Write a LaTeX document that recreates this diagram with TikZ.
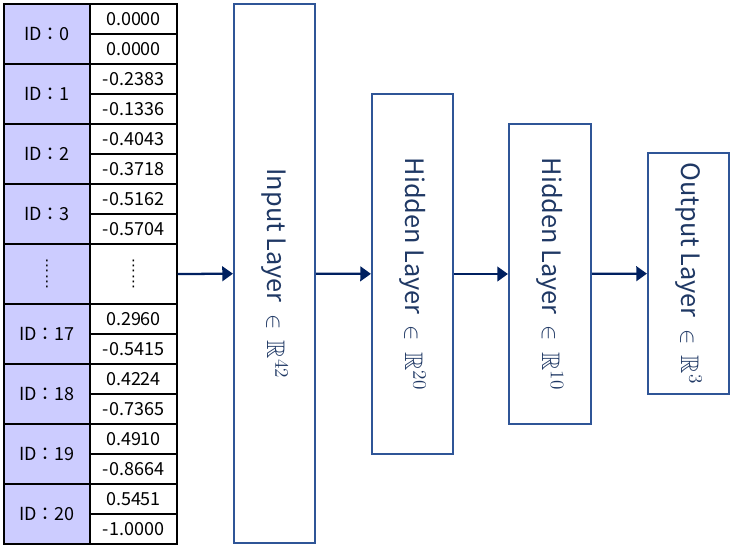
\documentclass[tikz,border=0pt]{standalone}
\usepackage{amssymb}
\usepackage{fontspec}
\setmainfont{Noto Sans CJK JP}
\newfontfamily\dotsfont{DejaVu Sans}
\usetikzlibrary{arrows.meta}
\definecolor{idfill}{HTML}{CCCCFF}
\definecolor{layerline}{HTML}{2F5597}
\definecolor{layertext}{HTML}{1F3864}
\definecolor{arrowcol}{HTML}{002060}
\begin{document}
\begin{tikzpicture}[
        x=0.75pt, y=-0.75pt,
        idcell/.style={draw, fill=idfill, line width=0.8pt, inner sep=0pt, minimum width=64.5pt, minimum height=45pt, font=\fontsize{13.5}{16}\selectfont},
        valcell/.style={draw, fill=white, line width=0.8pt, inner sep=0pt, minimum width=65.25pt, minimum height=22.5pt, font=\fontsize{13.5}{15}\selectfont},
        dotcell/.style={font=\dotsfont\fontsize{11}{12.5}\selectfont, align=center, minimum height=45pt},
        layer/.style={draw=layerline, line width=1.6pt, inner sep=0pt, minimum width=60.75pt, text=layertext, font=\fontsize{19}{22}\selectfont},
        arrow/.style={-{Triangle[length=8pt,width=11pt]}, line width=1.7pt, arrowcol}
    ]
        \useasboundingbox (0,0) rectangle (732,547);
        
        % ID column
        \node[idcell] (id0) at (47,34) {ID：0};
        \node[idcell] (id1) at (47,94) {ID：1};
        \node[idcell] (id2) at (47,154) {ID：2};
        \node[idcell] (id3) at (47,214) {ID：3};
        \node[idcell, dotcell] (iddots) at (47,274) {⋮\\⋮};
        \node[idcell] (id17) at (47,334) {ID：17};
        \node[idcell] (id18) at (47,394) {ID：18};
        \node[idcell] (id19) at (47,454) {ID：19};
        \node[idcell] (id20) at (47,514) {ID：20};
        
        % Coordinate values
        \node[valcell] (v0a) at (133.5,19) {0.0000};
        \node[valcell] (v0b) at (133.5,49) {0.0000};
        \node[valcell] (v1a) at (133.5,79) {-0.2383};
        \node[valcell] (v1b) at (133.5,109) {-0.1336};
        \node[valcell] (v2a) at (133.5,139) {-0.4043};
        \node[valcell] (v2b) at (133.5,169) {-0.3718};
        \node[valcell] (v3a) at (133.5,199) {-0.5162};
        \node[valcell] (v3b) at (133.5,229) {-0.5704};
        \node[valcell, dotcell] (vdots) at (133.5,274) {⋮\\⋮};
        \node[valcell] (v17a) at (133.5,319) {0.2960};
        \node[valcell] (v17b) at (133.5,349) {-0.5415};
        \node[valcell] (v18a) at (133.5,379) {0.4224};
        \node[valcell] (v18b) at (133.5,409) {-0.7365};
        \node[valcell] (v19a) at (133.5,439) {0.4910};
        \node[valcell] (v19b) at (133.5,469) {-0.8664};
        \node[valcell] (v20a) at (133.5,499) {0.5451};
        \node[valcell] (v20b) at (133.5,529) {-1.0000};
        
        % Network layers
        \node[layer, minimum height=404.25pt] (input) at (274.5,273.5) {\rotatebox{-90}{Input Layer \ $\in$ \ $\mathbb{R}^{42}$}};
        \node[layer, minimum height=270pt] (hidden1) at (412.5,274) {\rotatebox{-90}{Hidden Layer \ $\in$ \ $\mathbb{R}^{20}$}};
        \node[layer, minimum width=61.5pt, minimum height=225pt] (hidden2) at (550,274) {\rotatebox{-90}{Hidden Layer \ $\in$ \ $\mathbb{R}^{10}$}};
        \node[layer, minimum height=180.75pt] (output) at (688.5,273.5) {\rotatebox{-90}{Output Layer \ $\in$ \ $\mathbb{R}^{3}$}};
        
        % Connections
        \draw[arrow] (vdots.east) -- (input);
        \draw[arrow] (input) -- (hidden1);
        \draw[arrow] (hidden1) -- (hidden2);
        \draw[arrow] (hidden2) -- (output);
    \end{tikzpicture}
\end{document}
